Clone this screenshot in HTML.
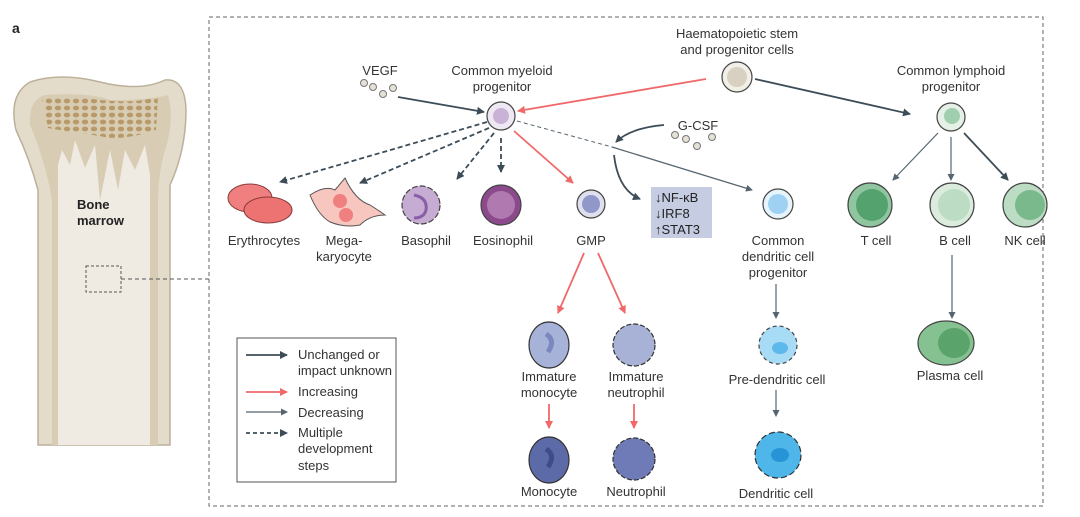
<!DOCTYPE html>
<html><head><meta charset="utf-8"><style>
body{margin:0;background:#fff}
svg{display:block;font-family:"Liberation Sans",sans-serif}
text{font-size:13px;fill:#333}
</style></head><body>
<svg width="1080" height="517" viewBox="0 0 1080 517" xmlns="http://www.w3.org/2000/svg">
<defs>
<marker id="ad" markerWidth="8" markerHeight="8" refX="7" refY="4" orient="auto" markerUnits="userSpaceOnUse"><path d="M0,0 L8,4 L0,8 z" fill="#3d4d58"/></marker>
<marker id="ar" markerWidth="8" markerHeight="8" refX="7" refY="4" orient="auto" markerUnits="userSpaceOnUse"><path d="M0,0 L8,4 L0,8 z" fill="#f0686a"/></marker>
<marker id="ag" markerWidth="7" markerHeight="7" refX="6" refY="3.5" orient="auto" markerUnits="userSpaceOnUse"><path d="M0,0 L7,3.5 L0,7 z" fill="#56656f"/></marker>
<pattern id="sp" width="9" height="7" patternUnits="userSpaceOnUse"><ellipse cx="4" cy="3" rx="3.2" ry="2.4" fill="#b89a6a"/></pattern>
</defs>
<text x="12" y="33" style="font-weight:bold;font-size:14px;fill:#222">a</text>
<!-- bone -->
<path d="M38,445 L38,190 Q30,160 16,130 Q8,95 30,82 Q60,72 100,82 Q140,92 165,80 Q185,78 186,110 Q186,150 170,185 L170,445 Z" fill="#e4dccb" stroke="#bcb09a" stroke-width="1.5"/>
<path d="M52,445 L52,200 Q45,160 30,125 Q28,100 45,95 Q90,92 110,100 Q150,100 168,95 Q175,120 165,150 Q158,175 158,200 L158,445 Z" fill="#d8cdb4"/>
<path d="M58,445 L58,165 L62,150 L70,165 L75,140 L85,168 L95,145 L100,200 L110,150 L118,190 L125,150 L135,170 L145,145 L150,175 L150,445 Z" fill="#efebe3"/>
<path d="M42,98 Q60,94 100,100 Q140,104 158,96 L156,130 Q120,142 100,136 Q70,132 48,128 Z" fill="url(#sp)"/>
<text x="77" y="209" style="font-weight:bold;font-size:13px;fill:#222">Bone</text>
<text x="77" y="225" style="font-weight:bold;font-size:13px;fill:#222">marrow</text>
<rect x="86" y="266" width="35" height="26" fill="none" stroke="#555" stroke-dasharray="3,2"/>
<line x1="121" y1="279" x2="209" y2="279" stroke="#555" stroke-dasharray="4,3"/>
<rect x="209" y="17" width="834" height="489" fill="none" stroke="#666" stroke-dasharray="4,3"/>
<!-- arrows -->
<g fill="none" stroke-width="1.8">
<line x1="398" y1="97" x2="484" y2="112" stroke="#3d4d58" marker-end="url(#ad)"/>
<line x1="706" y1="79" x2="518" y2="111" stroke="#f0686a" marker-end="url(#ar)"/>
<line x1="755" y1="79" x2="910" y2="114" stroke="#3d4d58" marker-end="url(#ad)"/>
<g stroke="#3d4d58" stroke-dasharray="5,3">
<line x1="487" y1="122" x2="280" y2="182" marker-end="url(#ad)"/>
<line x1="489" y1="128" x2="360" y2="183" marker-end="url(#ad)"/>
<line x1="494" y1="133" x2="457" y2="179" marker-end="url(#ad)"/>
<line x1="501" y1="138" x2="501" y2="172" marker-end="url(#ad)"/>
</g>
<line x1="514" y1="131" x2="573" y2="183" stroke="#f0686a" marker-end="url(#ar)"/>
<line x1="517" y1="121" x2="612" y2="147" stroke="#56656f" stroke-width="1" stroke-dasharray="4,3"/>
<line x1="612" y1="147" x2="752" y2="190" stroke="#56656f" stroke-width="1.2" marker-end="url(#ag)"/>
<path d="M664,125 Q630,128 616,142" stroke="#3d4d58" marker-end="url(#ad)"/>
<path d="M614,155 Q618,190 640,199" stroke="#3d4d58" marker-end="url(#ad)"/>
<line x1="938" y1="133" x2="893" y2="180" stroke="#56656f" stroke-width="1.2" marker-end="url(#ag)"/>
<line x1="951" y1="137" x2="951" y2="180" stroke="#56656f" stroke-width="1.2" marker-end="url(#ag)"/>
<line x1="964" y1="133" x2="1008" y2="180" stroke="#3d4d58" marker-end="url(#ad)"/>
<line x1="952" y1="255" x2="952" y2="318" stroke="#56656f" stroke-width="1.2" marker-end="url(#ag)"/>
<line x1="584" y1="253" x2="558" y2="313" stroke="#f0686a" marker-end="url(#ar)"/>
<line x1="598" y1="253" x2="625" y2="313" stroke="#f0686a" marker-end="url(#ar)"/>
<line x1="549" y1="404" x2="549" y2="428" stroke="#f0686a" marker-end="url(#ar)"/>
<line x1="634" y1="404" x2="634" y2="428" stroke="#f0686a" marker-end="url(#ar)"/>
<line x1="776" y1="284" x2="776" y2="318" stroke="#56656f" stroke-width="1.2" marker-end="url(#ag)"/>
<line x1="776" y1="390" x2="776" y2="416" stroke="#56656f" stroke-width="1.2" marker-end="url(#ag)"/>
</g>
<!-- factor dots -->
<g fill="#e6e1d6" stroke="#777" stroke-width="1">
<circle cx="364" cy="83" r="3.5"/><circle cx="373" cy="87" r="3.5"/><circle cx="383" cy="94" r="3.5"/><circle cx="393" cy="88" r="3.5"/>
<circle cx="675" cy="135" r="3.5"/><circle cx="686" cy="139" r="3.5"/><circle cx="697" cy="146" r="3.5"/><circle cx="712" cy="137" r="3.5"/>
</g>
<!-- cells -->
<circle cx="737" cy="77" r="15" fill="#f2efe8" stroke="#444" stroke-width="1.2"/><circle cx="737" cy="77" r="10" fill="#d8d0c0"/>
<circle cx="501" cy="116" r="14" fill="#eee8f2" stroke="#444" stroke-width="1.2"/><circle cx="501" cy="116" r="8" fill="#c8b3d6"/>
<circle cx="951" cy="117" r="14" fill="#e5f0e6" stroke="#444" stroke-width="1.2"/><circle cx="952" cy="116" r="8" fill="#9fcfae"/>
<circle cx="591" cy="204" r="14" fill="#dfe0ee" stroke="#444" stroke-width="1.2"/><circle cx="591" cy="204" r="9" fill="#8f98c8"/>
<circle cx="778" cy="204" r="15" fill="#e8f4fc" stroke="#444" stroke-width="1.2"/><circle cx="778" cy="204" r="10" fill="#9fd2f2"/>
<circle cx="870" cy="205" r="22" fill="#8fc59f" stroke="#444" stroke-width="1.2"/><circle cx="872" cy="205" r="16" fill="#54a26e"/>
<circle cx="952" cy="205" r="22" fill="#dbebdd" stroke="#444" stroke-width="1.2"/><circle cx="954" cy="205" r="16" fill="#bcdcc3"/>
<circle cx="1025" cy="205" r="22" fill="#bcdcc3" stroke="#444" stroke-width="1.2"/><circle cx="1030" cy="205" r="15" fill="#79b98b"/>
<ellipse cx="946" cy="343" rx="28" ry="22" fill="#86c191" stroke="#444" stroke-width="1.2"/><ellipse cx="954" cy="343" rx="16" ry="15" fill="#5aa46c"/>
<!-- myeloid -->
<ellipse cx="250" cy="198" rx="22" ry="14" fill="#f07f7f" stroke="#8a3b3b" stroke-width="1"/>
<ellipse cx="268" cy="210" rx="24" ry="13" fill="#ed7272" stroke="#8a3b3b" stroke-width="1"/>
<path d="M310,195 Q325,185 335,190 L345,178 Q355,200 370,205 Q378,210 385,215 Q370,215 360,225 Q345,228 330,222 Q318,215 310,195 Z" fill="#f7c6be" stroke="#555" stroke-width="1"/>
<circle cx="340" cy="201" r="7" fill="#f07f7f"/><circle cx="346" cy="215" r="7" fill="#f07f7f"/>
<circle cx="421" cy="205" r="19" fill="#c6acd2" stroke="#444" stroke-width="1.2" stroke-dasharray="6,2"/>
<path d="M414,195 Q428,198 426,210 Q424,218 414,218" stroke="#8a5fa8" stroke-width="3" fill="none"/>
<circle cx="501" cy="205" r="20" fill="#8c4a8c" stroke="#444" stroke-width="1.2"/><circle cx="501" cy="205" r="14" fill="#b07ab0"/>
<rect x="651" y="187" width="61" height="51" fill="#c6cde2"/>
<text x="655" y="202" style="fill:#222">↓NF-κB</text><text x="655" y="218" style="fill:#222">↓IRF8</text><text x="655" y="234" style="fill:#222">↑STAT3</text>
<ellipse cx="549" cy="345" rx="20" ry="23" fill="#a7b2d8" stroke="#333" stroke-width="1.2"/><path d="M546,334 Q556,340 548,352" stroke="#7b88bf" stroke-width="5" fill="none"/>
<circle cx="634" cy="345" r="21" fill="#a8b2d6" stroke="#333" stroke-width="1.2" stroke-dasharray="5,2"/>
<ellipse cx="549" cy="460" rx="20" ry="23" fill="#5d6aa8" stroke="#333" stroke-width="1.2"/><path d="M546,449 Q556,455 548,467" stroke="#3f4c8a" stroke-width="5" fill="none"/>
<circle cx="634" cy="459" r="21" fill="#6f7bb6" stroke="#333" stroke-width="1.2" stroke-dasharray="5,2"/>
<circle cx="778" cy="345" r="19" fill="#a8dcf6" stroke="#444" stroke-width="1.2" stroke-dasharray="4,3"/><ellipse cx="780" cy="348" rx="8" ry="6" fill="#5db8ec"/>
<circle cx="778" cy="455" r="23" fill="#4fb6ea" stroke="#333" stroke-width="1.2" stroke-dasharray="6,3"/><ellipse cx="780" cy="455" rx="9" ry="7" fill="#2694d6"/>
<!-- labels -->
<g text-anchor="middle">
<text x="737" y="38">Haematopoietic stem</text><text x="737" y="54">and progenitor cells</text>
<text x="380" y="75">VEGF</text>
<text x="502" y="75">Common myeloid</text><text x="502" y="91">progenitor</text>
<text x="951" y="75">Common lymphoid</text><text x="951" y="91">progenitor</text>
<text x="698" y="130">G-CSF</text>
<text x="264" y="245">Erythrocytes</text>
<text x="344" y="245">Mega-</text><text x="344" y="261">karyocyte</text>
<text x="426" y="245">Basophil</text><text x="503" y="245">Eosinophil</text>
<text x="591" y="245">GMP</text>
<text x="778" y="245">Common</text><text x="778" y="261">dendritic cell</text><text x="778" y="277">progenitor</text>
<text x="876" y="245">T cell</text><text x="955" y="245">B cell</text><text x="1025" y="245">NK cell</text>
<text x="549" y="381">Immature</text><text x="549" y="397">monocyte</text>
<text x="636" y="381">Immature</text><text x="636" y="397">neutrophil</text>
<text x="777" y="384">Pre-dendritic cell</text>
<text x="950" y="380">Plasma cell</text>
<text x="549" y="496">Monocyte</text><text x="636" y="496">Neutrophil</text>
<text x="776" y="498">Dendritic cell</text>
</g>
<!-- legend -->
<rect x="237" y="338" width="159" height="144" fill="#fff" stroke="#555" stroke-width="1"/>
<line x1="246" y1="355" x2="287" y2="355" stroke="#3d4d58" stroke-width="1.8" marker-end="url(#ad)"/>
<line x1="246" y1="392" x2="287" y2="392" stroke="#f0686a" stroke-width="1.8" marker-end="url(#ar)"/>
<line x1="246" y1="412" x2="287" y2="412" stroke="#56656f" stroke-width="1.2" marker-end="url(#ag)"/>
<line x1="246" y1="433" x2="287" y2="433" stroke="#3d4d58" stroke-width="1.8" stroke-dasharray="4,3" marker-end="url(#ad)"/>
<text x="298" y="359">Unchanged or</text><text x="298" y="375">impact unknown</text>
<text x="298" y="396">Increasing</text><text x="298" y="417">Decreasing</text>
<text x="298" y="437">Multiple</text><text x="298" y="453">development</text><text x="298" y="470">steps</text>
</svg>
</body></html>
